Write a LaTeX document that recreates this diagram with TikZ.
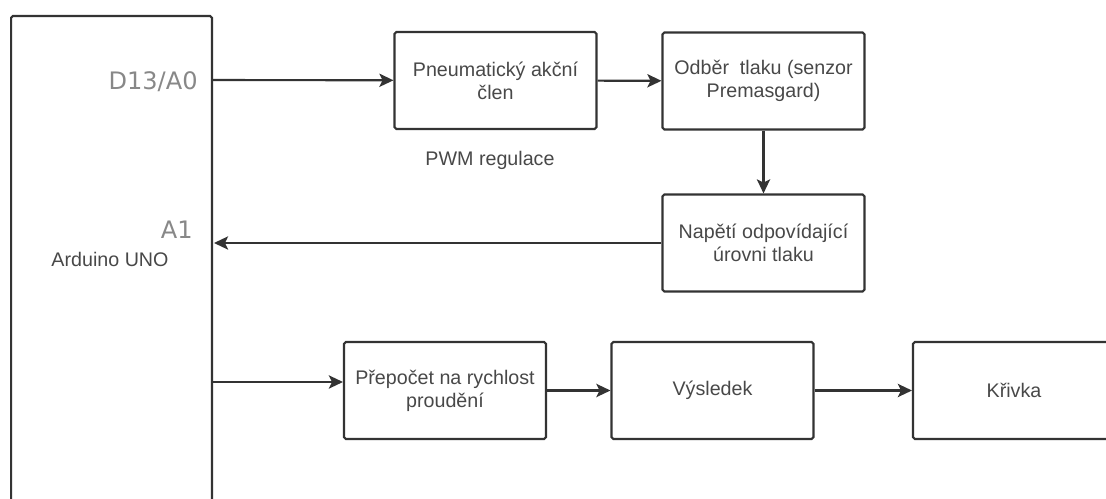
\documentclass[tikz,border=0pt]{standalone}
\usepackage{fontspec}
\setmainfont{Liberation Sans}
\newfontfamily\pinfont{DejaVu Sans}
\usepackage{xcolor}
\usepackage{tikz}
\usetikzlibrary{arrows,arrows.meta,shapes,positioning}
\definecolor{pingray}{HTML}{888888}
\definecolor{textgray}{HTML}{484848}
\definecolor{linegray}{HTML}{333333}

\begin{document}
\begin{tikzpicture}[x=0.02cm,y=-0.02cm]

        \clip (0,0) rectangle (1106,499);
        \tikzstyle{every node}=[text=textgray, inner sep=0pt, font=\fontsize{11.2}{13.1}\selectfont]
        \tikzstyle{block}=[draw=linegray, line width=1.2pt, rounded corners=1pt, minimum width=4.04cm, minimum height=1.94cm, align=center]
        \tikzstyle{pin}=[text=pingray, font=\pinfont\fontsize{13.7}{16}\selectfont, anchor=east]
        \tikzstyle{link}=[->, >={Stealth[length=8pt,width=7.5pt,inset=1.8pt]}, draw=linegray, line width=1.2pt]

        % Arduino board (runs off the bottom)
        \node[block, minimum width=4.02cm, minimum height=10.6cm, anchor=north west] (uno) at (10,15) {};
        \node (unolabel) at (110,259) {Arduino UNO};
        \node[pin] (pinD) at (198,82) {D13/A0};
        \node[pin] (pinA) at (193,230) {A1};
        \coordinate (outD) at (211,80);
        \coordinate (inA) at (214,243);
        \coordinate (outC) at (211,382);

        % upper chain
        \node[block] (pneu) at (495.5,80.5) {Pneumatický akční\\člen};
        \node[block] (odber) at (763.5,81) {Odběr\ \ tlaku (senzor\\Premasgard)};
        \node[block] (napeti) at (763.5,243) {Napětí odpovídající\\úrovni tlaku};
        \node (pwm) at (490,160) {PWM regulace};

        % lower chain
        \node[block] (prepocet) at (445,390.5) {Přepočet na rychlost\\proudění};
        \node[block] (vysledek) at (712.5,390.5) {Výsledek};
        \node[block] (krivka) at (1014,390.5) {Křivka};

        \draw[link] (outD) -- (pneu);
        \draw[link] (pneu) -- (odber);
        \draw[link] (odber) -- (napeti);
        \draw[link] (napeti) -- (inA);
        \draw[link] (outC) -- (outC -| prepocet.west);
        \draw[link] (prepocet) -- (vysledek);
        \draw[link] (vysledek) -- (krivka);
\end{tikzpicture}
\end{document}
